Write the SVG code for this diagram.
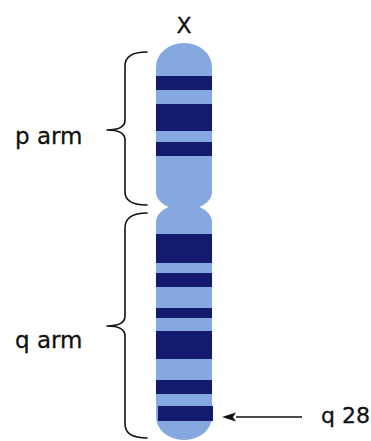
<svg xmlns="http://www.w3.org/2000/svg" width="371" height="441" viewBox="0 0 371 441">
  <style>
    .arm { fill: #85a8e1; }
    .band { fill: #141a6d; }
    .brace { fill: none; stroke: #111; stroke-width: 1.6; stroke-linecap: round; stroke-linejoin: round; }
    .label { font-family: "DejaVu Sans", "Liberation Sans", sans-serif; fill: #111; stroke: #111; stroke-width: 0.3; }
    .conn { stroke: #111; stroke-width: 1.6; fill: none; }
  </style>
  <defs>
    <marker id="head" viewBox="0 0 14 10" refX="0" refY="5" markerWidth="14" markerHeight="10" markerUnits="userSpaceOnUse" orient="auto">
      <path d="M14,5 L0,0.5 L3,5 L0,9.5 Z" fill="#111"/>
    </marker>
  </defs>

  <rect width="371" height="441" fill="#ffffff"/>

  <!-- chromosome title -->
  <g id="title">
    <text class="label" x="184" y="33" font-size="22" text-anchor="middle">X</text>
  </g>

  <!-- short arm with its bands -->
  <g id="p-arm">
    <path class="arm" d="M156,67 A28,24 0 0 1 212,67 L212,192 A28,18 0 0 1 156,192 Z"/>
    <rect class="band" x="156" y="76" width="56" height="14"/>
    <rect class="band" x="156" y="104" width="56" height="27"/>
    <rect class="band" x="156" y="142" width="56" height="14"/>
  </g>

  <!-- long arm with its bands -->
  <g id="q-arm">
    <path class="arm" d="M156,222 A28,18 0 0 1 212,222 L212,417 A28,23 0 0 1 156,417 Z"/>
    <rect class="band" x="156" y="234" width="56" height="29"/>
    <rect class="band" x="156" y="273" width="56" height="14"/>
    <rect class="band" x="156" y="308" width="56" height="10"/>
    <rect class="band" x="156" y="331" width="56" height="28"/>
    <rect class="band" x="156" y="380" width="56" height="14"/>
    <rect class="band" x="158" y="406" width="55" height="15"/>
  </g>

  <!-- arm labels with braces -->
  <g id="p-label">
    <path class="brace" d="M147,52 Q125,52 125,66 L125,120 Q125,130 107,130 Q125,130 125,140 L125,192 Q125,205 147,205"/>
    <text class="label" x="15" y="144" font-size="23">p arm</text>
  </g>
  <g id="q-label">
    <path class="brace" d="M147,213 Q125,213 125,228 L125,316 Q125,326 107,326 Q125,326 125,336 L125,424 Q125,438 147,438"/>
    <text class="label" x="15" y="348" font-size="23">q arm</text>
  </g>

  <g id="q28-label">
    <text class="label" x="321" y="423" font-size="22">q 28</text>
  </g>

  <!-- connectors -->
  <g id="connectors">
    <line class="conn" x1="302" y1="417" x2="236" y2="417" marker-end="url(#head)"/>
  </g>
</svg>
